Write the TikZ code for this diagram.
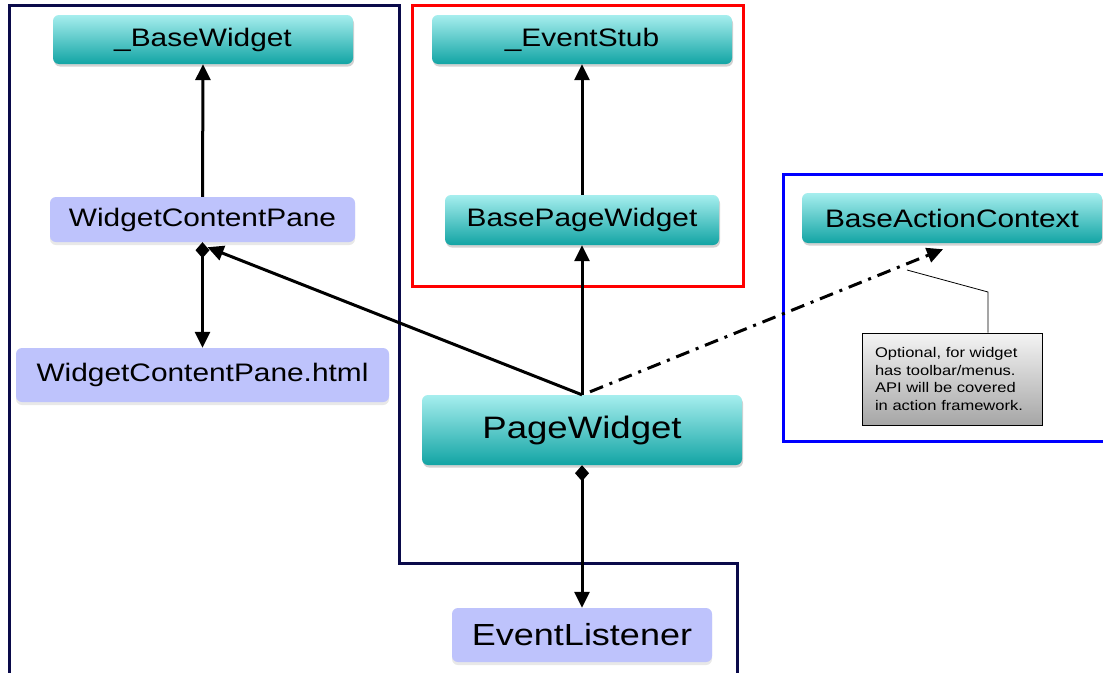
\documentclass[tikz,border=0pt]{standalone}
\usepackage{fontspec}
\setmainfont[FakeStretch=1.18]{Liberation Sans}
\usetikzlibrary{arrows.meta,shadows}
\definecolor{tealtop}{HTML}{A6EEEE}
\definecolor{tealbot}{HTML}{12A4A4}
\definecolor{lav}{HTML}{BEC3FC}
\definecolor{navyline}{HTML}{0A0A4A}
\definecolor{notetop}{HTML}{F4F4F4}
\definecolor{notebot}{HTML}{A6A6A6}
\begin{document}
\begin{tikzpicture}[x=1pt,y=-1pt,
  tealbox/.style={rounded corners=6pt, top color=tealtop, bottom color=tealbot, draw=none,
    drop shadow={opacity=0.35,shadow xshift=1pt,shadow yshift=-2.5pt},
    inner sep=0pt, font=\fontsize{25.3}{28}\selectfont},
  lavbox/.style={rounded corners=6pt, fill=lav, draw=none,
    drop shadow={opacity=0.18,shadow xshift=0pt,shadow yshift=-3pt},
    inner sep=0pt, font=\fontsize{25.3}{28}\selectfont},
  notebox/.style={top color=notetop, bottom color=notebot, draw=black, line width=0.8pt,
    inner sep=0pt, text width=154pt, align=left, font=\fontsize{14}{17.5}\selectfont},
  frame/.style={line width=3pt},
  conn/.style={line width=3pt, -{Triangle[length=16pt,width=15pt]}},
  diaconn/.style={line width=3pt, {Diamond[length=16pt,width=14pt]}-{Triangle[length=16pt,width=15pt]}},
  dashconn/.style={line width=3pt, dash pattern=on 14pt off 7pt on 3pt off 7pt, -{Triangle[length=16pt,width=15pt]}},
  callout/.style={line width=0.8pt}
]
\useasboundingbox (0,0) rectangle (1103,672);
\clip (0,0) rectangle (1103,672);
\fill[white] (0,0) rectangle (1103,672);

% frames
\draw[frame, navyline] (9,680) -- (9,5) -- (399,5) -- (399,563) -- (737,563) -- (737,680);
\draw[frame, red] (412,5) rectangle (743,286);
\draw[frame, blue] (1110,174) -- (783,174) -- (783,441.5) -- (1110,441.5);

% nodes
\node[tealbox, minimum width=300pt, minimum height=49pt] (bw) at (203,39.5) {\_BaseWidget};
\node[lavbox, minimum width=305pt, minimum height=45pt] (wcp) at (202.5,219.5) {WidgetContentPane};
\node[lavbox, minimum width=373pt, minimum height=54pt] (wcph) at (202.5,375) {WidgetContentPane.html};
\node[tealbox, minimum width=300pt, minimum height=49pt] (es) at (582,39.5) {\_EventStub};
\node[tealbox, minimum width=274pt, minimum height=50pt] (bpw) at (582,220) {BasePageWidget};
\node[tealbox, minimum width=300pt, minimum height=50pt] (bac) at (952,218) {BaseActionContext};
\node[tealbox, minimum width=320pt, minimum height=70pt, font=\fontsize{31}{34}\selectfont] (pw) at (582,430) {PageWidget};
\node[lavbox, minimum width=260pt, minimum height=54pt, font=\fontsize{30.5}{34}\selectfont] (el) at (582,635) {EventListener};
\node[notebox, minimum width=180pt, minimum height=92pt] (note) at (952,379)
  {Optional, for widget\\has toolbar/menus.\\API will be covered\\in action framework.};

% connectors
\draw[conn] (wcp.north) -- (bw.south);
\draw[diaconn] (wcp.south) -- (wcph.north);
\draw[conn] (pw.north) -- (bpw.south);
\draw[conn] (bpw.north) -- (es.south);
\draw[conn] (pw.north) -- ([xshift=5pt,yshift=-5pt]wcp.south);
\draw[dashconn] ([xshift=8pt,yshift=3pt]pw.north) -- ([xshift=-9pt,yshift=-6pt]bac.south);
\draw[diaconn] (pw.south) -- (el.north);

\coordinate (cp) at (907,270);
\coordinate (bend) at (988,292);
\draw[callout] (cp) -- (bend) -- (bend |- note.north);
\end{tikzpicture}
\end{document}
